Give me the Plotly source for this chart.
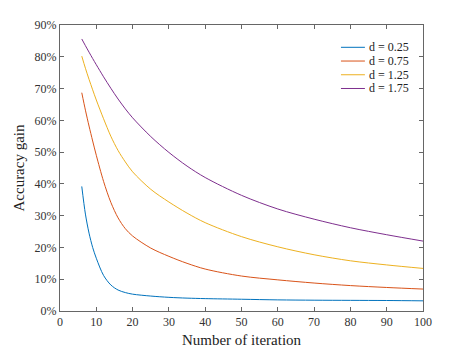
import plotly.graph_objects as go

iterations = [6, 7, 8, 9, 10, 12, 14, 16, 18, 20, 25, 30, 35, 40, 50, 60, 70, 80, 90, 100]

gain_d025 = [39.2, 30.5, 24.5, 20.0, 16.6, 11.2, 8.2, 6.6, 5.8, 5.3, 4.7, 4.3, 4.05, 3.9, 3.7, 3.5, 3.4, 3.35, 3.3, 3.2]
gain_d075 = [68.7, 63.2, 58.2, 53.5, 49.0, 40.8, 34.2, 29.3, 25.9, 23.6, 19.8, 17.2, 15.0, 13.2, 11.0, 9.8, 8.8, 8.0, 7.4, 6.9]
gain_d125 = [80.2, 76.4, 72.9, 69.6, 66.4, 60.5, 55.0, 50.5, 46.9, 43.8, 38.3, 34.3, 30.8, 27.8, 23.4, 20.2, 17.7, 15.8, 14.5, 13.4]
gain_d175 = [85.6, 83.5, 81.45, 79.45, 77.5, 73.7, 70.1, 66.7, 63.6, 60.8, 54.9, 49.9, 45.6, 42.0, 36.4, 32.1, 28.9, 26.2, 24.0, 22.0]

labels = ["d = 0.25", "d = 0.75", "d = 1.25", "d = 1.75"]
colors = ["#0072BD", "#D95319", "#EDB120", "#7E2F8E"]
all_gains = [gain_d025, gain_d075, gain_d125, gain_d175]

fig = go.Figure()
for name, vals, color in zip(labels, all_gains, colors):
    fig.add_trace(go.Scatter(
        x=iterations, y=vals, name=name, mode="lines",
        line=dict(color=color, width=1, shape="spline", smoothing=0.9),
        showlegend=False
    ))

# legend drawn by hand so the rows sit as tight as the original
for i, (name, color) in enumerate(zip(labels, colors)):
    ly = 0.922 - i * 0.048
    fig.add_shape(type="line", xref="paper", yref="paper",
                  x0=0.774, x1=0.840, y0=ly, y1=ly,
                  line=dict(color=color, width=1))
    fig.add_annotation(text=name, xref="paper", yref="paper", x=0.846, y=ly,
                       xanchor="left", yanchor="middle", showarrow=False,
                       font=dict(family="Liberation Serif", size=12, color="#222222"))

axis_style = dict(
    showline=True, linecolor="#666666", linewidth=1, mirror="ticks",
    ticks="inside", ticklen=4, tickcolor="#666666",
    showgrid=False, zeroline=False, automargin=False,
    tickfont=dict(family="Liberation Serif", size=12, color="#333333"),
)

fig.update_xaxes(range=[0, 100], dtick=10, title=dict(text="Number of iteration",
                 font=dict(family="Liberation Serif", size=15, color="#222222"), standoff=6),
                 **axis_style)
fig.update_yaxes(range=[0, 90], dtick=10, ticksuffix="%", title=dict(text="Accuracy gain",
                 font=dict(family="Liberation Serif", size=15, color="#222222"), standoff=6),
                 **axis_style)

# page body has an 8px margin, so shift the plot box to land where the original one is
fig.update_layout(
    width=467, height=350,
    margin=dict(l=52, r=52, t=17, b=47),
    paper_bgcolor="white", plot_bgcolor="white",
    font=dict(family="Liberation Serif"),
    showlegend=False,
)

fig.write_html("out.html")
